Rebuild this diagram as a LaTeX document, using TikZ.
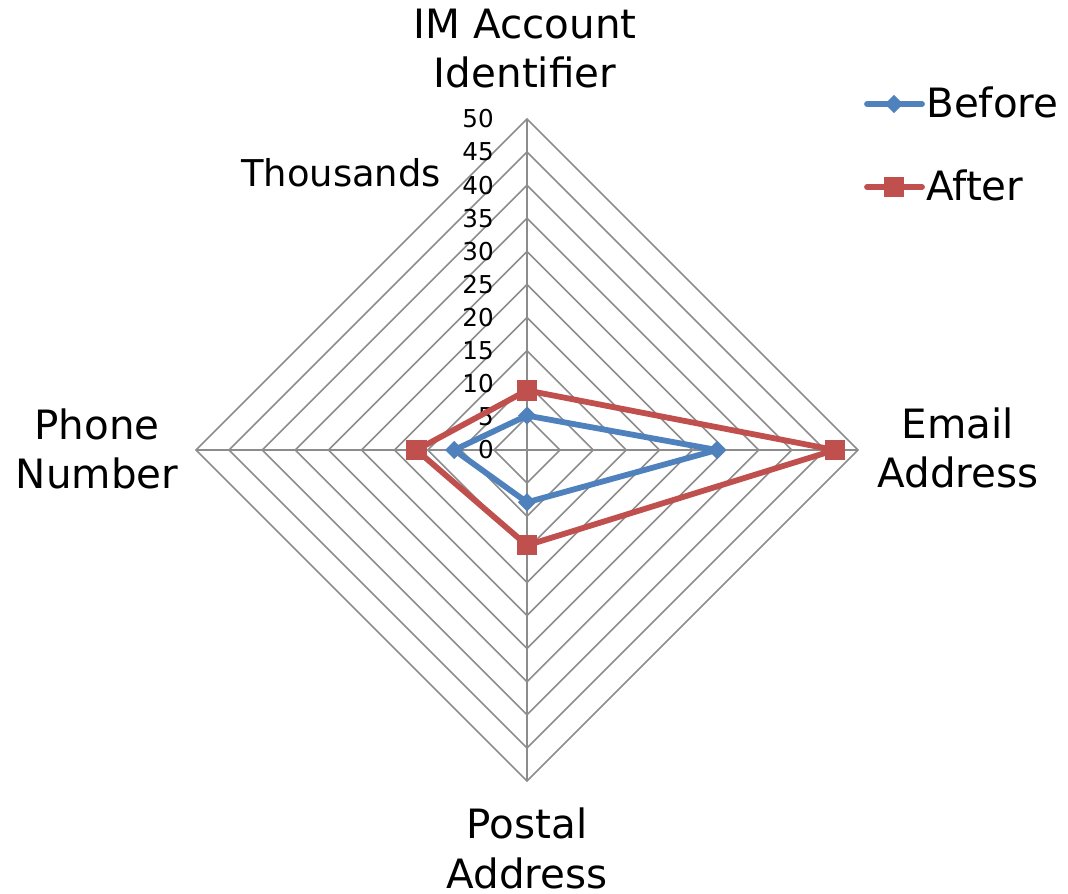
\documentclass[tikz,border=0pt]{standalone}
\usepackage{fontspec}
\setmainfont{DejaVu Sans}
\usetikzlibrary{shapes.geometric}
\definecolor{serblue}{HTML}{4F81BD}
\definecolor{serred}{HTML}{C0504D}
\definecolor{gridgray}{HTML}{8C8C8C}
\begin{document}
\begin{tikzpicture}[x=0.02cm,y=0.02cm,
  gridline/.style={draw=gridgray,line width=0.9pt},
  serline/.style={line width=3.3pt,line join=round},
  bmark/.style={diamond,fill=serblue,inner sep=0pt,minimum size=10.5pt},
  amark/.style={rectangle,fill=serred,inner sep=0pt,minimum size=11.5pt},
  lbl/.style={inner sep=0pt,align=center,font=\fontsize{23}{28.35}\selectfont},
  tick/.style={inner sep=0pt,anchor=east,font=\fontsize{14}{16}\selectfont}]
\useasboundingbox (0,0) rectangle (1068,893);
\begin{scope}[shift={(527,443)}]
% grid
\foreach \i in {1,...,10}
  \draw[gridline] (90:{33.1*\i}) -- (0:{33.1*\i}) -- (270:{33.1*\i}) -- (180:{33.1*\i}) -- cycle;
\draw[gridline] (90:331) -- (270:331);
\draw[gridline] (180:331) -- (0:331);
\foreach \v in {0,5,...,50}
  \node[tick] (t\v) at (-33,{\v*6.62}) {\v};
% data
\coordinate (b-im) at (90:{5.2*6.62});
\coordinate (b-em) at (0:{28.7*6.62});
\coordinate (b-po) at (270:{7.9*6.62});
\coordinate (b-ph) at (180:{11.0*6.62});
\coordinate (a-im) at (90:{9.0*6.62});
\coordinate (a-em) at (0:{46.5*6.62});
\coordinate (a-po) at (270:{14.4*6.62});
\coordinate (a-ph) at (180:{16.7*6.62});
\draw[serline,serblue] (b-im) -- (b-em) -- (b-po) -- (b-ph) -- cycle;
\foreach \p in {im,em,po,ph}
  \node[bmark] (bm-\p) at (b-\p) {};
\draw[serline,serred] (a-im) -- (a-em) -- (a-po) -- (a-ph) -- cycle;
\foreach \p in {im,em,po,ph}
  \node[amark] (am-\p) at (a-\p) {};
\end{scope}
% axis labels
\node[lbl,anchor=base] (im) at (525,805) {IM Account\\Identifier};
\node[lbl,anchor=base] (em) at (958,405) {Email\\Address};
\node[lbl,anchor=base] (ph) at (97,404) {Phone\\Number};
\node[lbl,anchor=base] (po) at (527,5) {Postal\\Address};
\node[lbl,anchor=base,font=\fontsize{21}{26}\selectfont] (units) at (341,706) {Thousands};
% legend
\coordinate (kb1) at (867,789);
\coordinate (kb2) at (922,789);
\coordinate (ka1) at (867,706);
\coordinate (ka2) at (922,706);
\draw[serline,serblue,line cap=round] (kb1) -- (kb2);
\node[bmark] (kbm) at (894,789) {};
\draw[serline,serred,line cap=round] (ka1) -- (ka2);
\node[amark] (kam) at (894,706) {};
\node[lbl,anchor=base west] (kbt) at (926,775) {Before};
\node[lbl,anchor=base west] (kat) at (926,692) {After};
\end{tikzpicture}
\end{document}
